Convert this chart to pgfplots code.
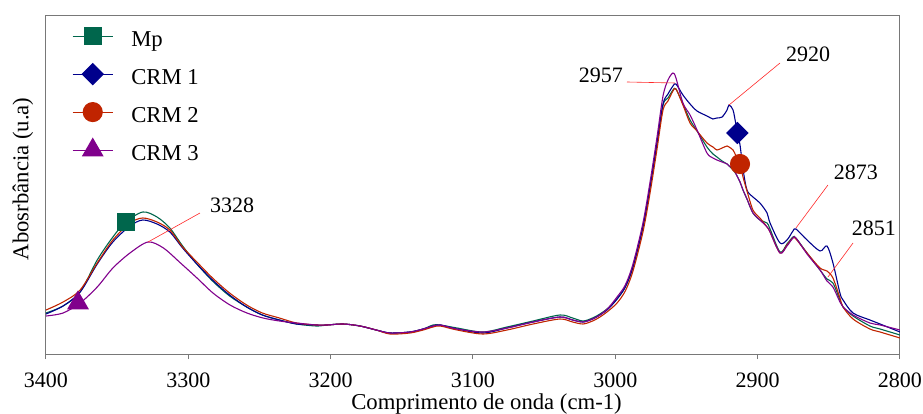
\documentclass[border=0pt]{standalone}
\usepackage{fontspec}
\setmainfont{Liberation Serif}
\usepackage{pgfplots}
\pgfplotsset{compat=1.18}
\definecolor{mpcol}{RGB}{0,102,76}
\definecolor{cAcol}{RGB}{0,0,140}
\definecolor{cBcol}{RGB}{192,36,0}
\definecolor{cCcol}{RGB}{128,0,140}
\definecolor{anncol}{RGB}{255,40,40}
\definecolor{framecol}{RGB}{120,120,120}
\newcommand{\bigf}{\fontsize{22.7bp}{27bp}\selectfont}
\newcommand{\annf}{\fontsize{22bp}{26bp}\selectfont}
\begin{document}
\begin{tikzpicture}
\begin{axis}[
  at={(46bp,60bp)}, anchor=south west,
  scale only axis, width=854bp, height=338bp,
  x dir=reverse, xmin=2800, xmax=3400, ymin=0, ymax=338,
  xtick={2800,2900,3000,3100,3200,3300,3400}, ytick=\empty,
  axis line style={draw=framecol, line width=1bp},
  xtick style={draw=framecol, line width=1bp},
  xtick pos=bottom, tick align=outside, major tick length=5bp,
  /pgf/number format/assume math mode=true,
  /pgf/number format/1000 sep={},
  xticklabel style={font=\annf, anchor=base, yshift=-28.5bp, inner sep=0pt},
  every axis x label/.style={at={(axis description cs:0.5,0)}, anchor=base, xshift=13.5bp, yshift=-55bp, font=\bigf, inner sep=0pt},
  every axis y label/.style={at={(axis description cs:-0.0269,0.518)}, rotate=90, anchor=center, font=\bigf, inner sep=0pt},
  xlabel={Comprimento de onda (cm-1)},
  ylabel={Abosrbância (u.a)},
  legend image code/.code={\draw[mark repeat=2,mark phase=2,#1] plot coordinates {(0bp,7.5bp) (20bp,7.5bp) (40bp,7.5bp)}; \path[draw=none,fill=none] (0bp,-11.25bp) rectangle (40bp,26.25bp);},
  legend style={draw=none, fill=none, at={(axis description cs:0,1)}, anchor=north west,
    xshift=26bp, yshift=-1.2bp, font=\bigf, inner sep=0pt, row sep=0bp,
    nodes={inner sep=0pt},
    /tikz/every odd column/.append style={column sep=18bp}},
  legend cell align=left,
  every axis plot/.append style={line width=1.1bp, smooth, tension=0.5},
]
\addlegendimage{mpcol, line width=1.1bp, mark=square*, mark size=8.5bp}
\addlegendentry{\raisebox{7bp}{Mp}}
\addlegendimage{cAcol, line width=1.1bp, mark=square*, mark size=7.4bp, mark options={rotate=45}}
\addlegendentry{\raisebox{7bp}{CRM 1}}
\addlegendimage{cBcol, line width=1.1bp, mark=*, mark size=9.5bp}
\addlegendentry{\raisebox{7bp}{CRM 2}}
\addlegendimage{cCcol, line width=1.1bp, mark=triangle*, mark size=11.5bp}
\addlegendentry{\raisebox{7bp}{CRM 3}}

% Mp
\addplot[mpcol, forget plot] coordinates {(3400,41) (3388,48) (3376,62) (3364,94) (3353,117) (3344,132) (3332,142) (3322,137) (3313,126) (3304,108) (3294,90) (3283,73) (3271,58) (3259,47) (3248,39) (3236,34) (3224,30) (3210,28) (3202.6,29) (3191.3,30) (3179.4,28) (3168,24) (3158.3,21) (3144.3,22) (3135,25) (3128.1,29) (3123,29) (3111.2,26) (3093,22) (3076.1,27) (3057.8,33) (3038.9,39) (3030,36) (3022.7,33) (3016,36) (3010.8,40) (3005,46) (2998.8,55) (2993,67) (2987.6,87) (2980.6,127) (2975.6,167) (2970.7,211) (2966.5,249) (2963,256) (2959.5,264) (2957.4,265) (2952.5,250) (2947.5,234) (2942.6,223) (2935.6,207) (2931.4,200) (2928.6,197) (2925,193) (2921.5,190) (2920.1,188) (2917.3,184) (2915.2,180) (2912.4,172) (2910.3,164) (2907.5,155) (2903.3,141) (2898.4,134) (2893.4,131) (2891.3,125) (2884.3,102) (2879.4,110) (2875.2,117) (2873.1,116) (2865.3,101) (2856.2,84) (2851.3,75) (2847.1,71) (2842.2,54) (2840,47) (2833,38) (2821.1,28) (2814,25) (2800,19)};
% CRM 1
\addplot[cAcol, forget plot] coordinates {(3400,40) (3388,48) (3376,62) (3364,90) (3353,112) (3341,128) (3332,134) (3322,130) (3313,122) (3304,106) (3294,90) (3283,74) (3271,59) (3259,47) (3248,39) (3236,34) (3224,30) (3210,29) (3202.6,29) (3191.3,30) (3179.4,28) (3168,24) (3158.3,21) (3144.3,22) (3135,25) (3128.1,28) (3123,29) (3111.2,25) (3093,21) (3076.1,26) (3057.8,32) (3038.9,37) (3030,34) (3022.7,32) (3016,35) (3010.8,39) (3005,45) (2998.8,55) (2993,67) (2987.6,87) (2980.6,127) (2975.6,167) (2970.7,211) (2966.5,250) (2963,260) (2959.5,268) (2957.4,270) (2952.5,259) (2947.5,250) (2942.6,243) (2935.6,238) (2931.4,235) (2928.6,236) (2925,237) (2921.5,244) (2920.1,249) (2917.3,244) (2915.2,229) (2912.4,209) (2910.3,185) (2907.5,164) (2903.3,157) (2898.4,151) (2893.4,141) (2891.3,131) (2884.3,111) (2879.4,114) (2875.2,123) (2873.1,125) (2865.3,114) (2856.2,103) (2851.3,108) (2847.1,91) (2842.2,61) (2840,54) (2833,41) (2821.1,34) (2814,30) (2800,22)};
% CRM 2
\addplot[cBcol, forget plot] coordinates {(3400,44) (3388,52) (3376,64) (3364,91) (3353,114) (3341,131) (3332,136) (3322,132) (3313,124) (3304,107) (3294,92) (3283,76) (3271,61) (3259,49) (3248,41) (3236,36) (3224,31) (3210,29) (3202.6,29) (3191.3,30) (3179.4,28) (3168,24) (3158.3,20) (3144.3,21) (3135,24) (3128.1,27) (3123,28) (3111.2,24) (3093,20) (3076.1,24) (3057.8,30) (3038.9,35) (3030,32) (3022.7,30) (3016,33) (3010.8,37) (3005,43) (2998.8,51) (2993,63) (2987.6,83) (2980.6,122) (2975.6,161) (2970.7,205) (2966.5,244) (2963,253) (2959.5,263) (2957.4,265) (2952.5,249) (2947.5,231) (2942.6,223) (2935.6,211) (2931.4,207) (2928.6,204) (2925,206) (2921.5,208) (2920.1,207) (2917.3,204) (2915.2,198) (2912.4,190) (2910.3,177) (2907.5,163) (2903.3,144) (2898.4,136) (2893.4,127) (2891.3,122) (2884.3,101) (2879.4,109) (2875.2,116) (2873.1,115) (2865.3,101) (2856.2,86) (2851.3,83) (2847.1,76) (2842.2,56) (2840,47) (2833,35) (2821.1,25) (2814,22) (2800,16)};
% CRM 3
\addplot[cCcol, forget plot] coordinates {(3400,38) (3388,41) (3376,51) (3364,67) (3353,86) (3341,101) (3328.3,112) (3317.5,106) (3305.5,91) (3293.9,76) (3282.7,61) (3270.7,49) (3258.8,41) (3247.5,36) (3236,33) (3224,31) (3210,29) (3202.6,29) (3191.3,30) (3179.4,28) (3168,24) (3158.3,21) (3144.3,22) (3135,25) (3128.1,28) (3123,29) (3111.2,25) (3093,22) (3076.1,26) (3057.8,32) (3038.9,37) (3030,34) (3022.7,32) (3016,35) (3010.8,39) (3005,46) (2998.8,57) (2993,69) (2987.6,90) (2980.6,131) (2975.6,172) (2970.7,217) (2966.5,258) (2963,274) (2959.5,281) (2957.4,276) (2952.5,251) (2947.5,239) (2942.6,224) (2935.6,201) (2931.4,196) (2928.6,194) (2925,192) (2921.5,190) (2920.1,188) (2917.3,186) (2915.2,180) (2912.4,172) (2910.3,164) (2907.5,155) (2903.3,141) (2898.4,134) (2893.4,127) (2891.3,122) (2884.3,101) (2879.4,108) (2875.2,116) (2873.1,116) (2865.3,100) (2856.2,84) (2851.3,73) (2847.1,67) (2842.2,52) (2840,47) (2833,39) (2821.1,31) (2814,29) (2800,24)};

% single markers on the curves
\addplot[mpcol, only marks, mark=square*, mark size=8.5bp, forget plot] coordinates {(3344,132)};
\addplot[cAcol, only marks, mark=square*, mark size=7.4bp, mark options={rotate=45}, forget plot] coordinates {(2914.3,221)};
\addplot[cBcol, only marks, mark=*, mark size=9.5bp, forget plot] coordinates {(2912.4,190)};
\addplot[cCcol, only marks, mark=triangle*, mark size=11.5bp, forget plot] coordinates {(3377.5,51)};

% annotations
\draw[anncol, line width=0.6bp] (axis cs:3328.3,112) -- (axis cs:3291.8,141);
\node[font=\annf, inner sep=0pt] at (axis cs:3269.3,149) {3328};
\draw[anncol, line width=0.6bp] (axis cs:2991.8,272) -- (axis cs:2958.1,271);
\node[font=\annf, inner sep=0pt, anchor=east] at (axis cs:2994.6,279) {2957};
\draw[anncol, line width=0.6bp] (axis cs:2920.1,249) -- (axis cs:2884.3,291);
\node[font=\annf, inner sep=0pt] at (axis cs:2864.6,300) {2920};
\draw[anncol, line width=0.6bp] (axis cs:2873.1,126) -- (axis cs:2850.6,169);
\node[font=\annf, inner sep=0pt] at (axis cs:2831,182) {2873};
\draw[anncol, line width=0.6bp] (axis cs:2850.6,77) -- (axis cs:2833,111);
\node[font=\annf, inner sep=0pt] at (axis cs:2818.3,126) {2851};
\end{axis}
\pgfresetboundingbox
\path[use as bounding box] (0,0) rectangle (923bp,414bp);
\end{tikzpicture}
\end{document}
